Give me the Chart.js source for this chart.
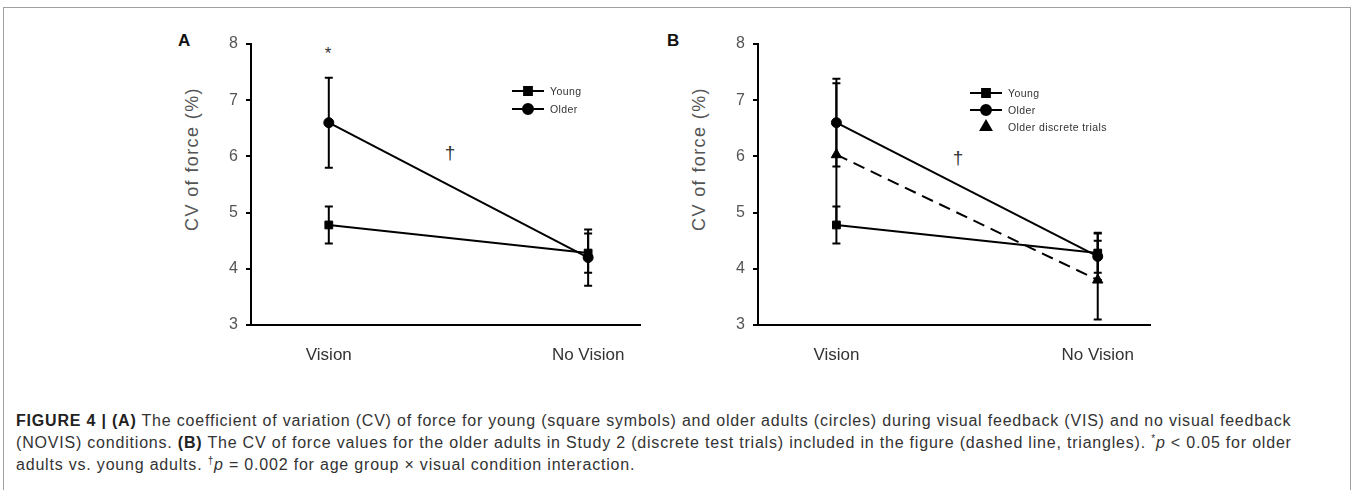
<!DOCTYPE html>
<html>
<head>
<meta charset="utf-8">
<script src="https://cdn.jsdelivr.net/npm/chart.js@4.4.1/dist/chart.umd.min.js"></script>
<style>
  body { margin: 0; background: #fff; width: 1354px; height: 490px; overflow: hidden; position: relative; font-family: Arial, "Liberation Sans", sans-serif; }
  .frame { position: absolute; left: 3px; top: 7px; width: 1346px; height: 500px; border: 1px solid #a0a0a0; border-bottom: none; }
  .wrap { position: absolute; }
  .panel { position: absolute; font-weight: bold; font-size: 17px; color: #111; }
  .ytitle { position: absolute; font-size: 18px; color: #555; letter-spacing: 1.4px; transform: translate(-50%, -50%) rotate(-90deg); white-space: nowrap; }
  .mark { position: absolute; color: #333; transform: translate(-50%, -50%); }
  .caption { position: absolute; left: 16px; top: 410px; font-size: 16px; letter-spacing: 0.8px; color: #333; white-space: nowrap; font-family: "Liberation Sans", Arial, sans-serif; }
  .caption div { height: 22px; line-height: 22px; }
  .caption b { color: #222; }
  .caption sup { font-size: 10px; line-height: 0; vertical-align: 6px; }
</style>
</head>
<body>
<div class="frame"></div>

<div class="panel" style="left:178px; top:31px;">A</div>
<div class="panel" style="left:667px; top:31px;">B</div>

<div class="ytitle" style="left:192px; top:159px;">CV of force (%)</div>
<div class="ytitle" style="left:699px; top:159px;">CV of force (%)</div>

<div class="mark" style="left:328px; top:54px; font-size:17px;">*</div>
<div class="mark" style="left:450px; top:153px; font-size:19px;">†</div>
<div class="mark" style="left:958px; top:158px; font-size:19px;">†</div>

<div class="wrap" style="left:140px; top:20px; width:520px; height:340px;"><canvas id="chartA"></canvas></div>
<div class="wrap" style="left:650px; top:20px; width:520px; height:340px;"><canvas id="chartB"></canvas></div>

<div class="caption">
<div><b>FIGURE 4 | (A)</b> The coefficient of variation (CV) of force for young (square symbols) and older adults (circles) during visual feedback (VIS) and no visual feedback</div>
<div>(NOVIS) conditions. <b>(B)</b> The CV of force values for the older adults in Study 2 (discrete test trials) included in the figure (dashed line, triangles). <sup>*</sup><i>p</i> &lt; 0.05 for older</div>
<div>adults vs. young adults. <sup>†</sup><i>p</i> = 0.002 for age group × visual condition interaction.</div>
</div>

<script>
// categorias del eje x y valores
const conditions = ['Vision', 'No Vision'];
const yTicks = [3, 4, 5, 6, 7, 8];

// Panel A
const youngA = [4.78, 4.28];
const youngErrA = [0.33, 0.35];
const olderA = [6.6, 4.2];
const olderErrA = [0.8, 0.5];

// Panel B
const youngB = [4.78, 4.28];
const youngErrB = [0.33, 0.35];
const olderB = [6.6, 4.22];
const olderErrB = [0.78, 0.42];
const discreteB = [6.03, 3.8];
const discreteErrB = [1.27, 0.7];

const toPoints = vals => vals.map((v, i) => ({ x: i + 1, y: v }));

// barras de error verticales con tope
const errorBars = {
    id: 'errorBars',
    beforeDatasetsDraw(chart) {
        const ctx = chart.ctx;
        const yScale = chart.scales.y;
        ctx.save();
        ctx.strokeStyle = '#000';
        ctx.lineWidth = 2;
        chart.data.datasets.forEach((ds, i) => {
            if (!ds.errors) return;
            chart.getDatasetMeta(i).data.forEach((pt, j) => {
                const v = ds.data[j].y;
                const e = ds.errors[j];
                const top = yScale.getPixelForValue(v + e);
                const bot = yScale.getPixelForValue(v - e);
                ctx.beginPath();
                ctx.moveTo(pt.x, top); ctx.lineTo(pt.x, bot);
                ctx.moveTo(pt.x - 4, top); ctx.lineTo(pt.x + 4, top);
                ctx.moveTo(pt.x - 4, bot); ctx.lineTo(pt.x + 4, bot);
                ctx.stroke();
            });
        });
        ctx.restore();
    }
};

// leyenda con linea y simbolo
const lineLegend = {
    id: 'lineLegend',
    afterDraw(chart, args, opts) {
        const ctx = chart.ctx;
        ctx.save();
        ctx.font = '10.5px Arial';
        ctx.textBaseline = 'middle';
        chart.data.datasets.forEach((ds, i) => {
            const y = opts.y + i * opts.gap;
            const x = opts.x;
            ctx.strokeStyle = '#000';
            ctx.fillStyle = '#000';
            if (ds.legendLine !== false) {
                ctx.lineWidth = 2;
                ctx.setLineDash([]);
                ctx.beginPath();
                ctx.moveTo(x, y); ctx.lineTo(x + 32, y);
                ctx.stroke();
            }
            Chart.helpers.drawPoint(ctx, {
                pointStyle: ds.pointStyle, radius: ds.pointRadius, rotation: 0, borderWidth: 1
            }, x + 16, y);
            ctx.fillStyle = '#333';
            ctx.letterSpacing = '0.4px';
            ctx.fillText(ds.label, x + 38, y + 1);
        });
        ctx.restore();
    }
};

function series(label, vals, errs, style, radius, dash) {
    return {
        label: label,
        data: toPoints(vals),
        errors: errs,
        borderColor: '#000',
        backgroundColor: '#000',
        borderWidth: 2,
        borderDash: dash || [],
        pointStyle: style,
        pointRadius: radius,
        pointBorderWidth: 1,
        pointBackgroundColor: '#000',
        pointBorderColor: '#000',
        legendLine: !dash
    };
}

function makeOptions(yWidth, legendPos) {
    return {
        responsive: true,
        maintainAspectRatio: false,
        animation: false,
        layout: { padding: { top: 24, right: 20, left: 0, bottom: 0 } },
        plugins: {
            legend: { display: false },
            tooltip: { enabled: false },
            lineLegend: legendPos
        },
        scales: {
            x: {
                type: 'linear',
                min: 0.7,
                max: 2.2,
                afterBuildTicks: scale => { scale.ticks = conditions.map((c, i) => ({ value: i + 1 })); },
                afterFit: scale => { scale.height = 35; },
                ticks: {
                    callback: v => conditions[v - 1],
                    font: { size: 17, family: 'Arial' },
                    color: '#333',
                    padding: 12,
                    maxRotation: 0
                },
                grid: { display: false },
                border: { display: true, color: '#000', width: 2 }
            },
            y: {
                min: 3,
                max: 8,
                afterBuildTicks: scale => { scale.ticks = yTicks.map(v => ({ value: v })); },
                afterFit: scale => { scale.width = yWidth; },
                ticks: {
                    font: { size: 16, family: 'Arial' },
                    color: '#555',
                    padding: 8
                },
                grid: { drawOnChartArea: false, drawTicks: true, tickLength: 5, color: '#000', lineWidth: 2 },
                border: { display: true, color: '#000', width: 2 }
            }
        }
    };
}

new Chart(document.getElementById('chartA'), {
    type: 'line',
    data: {
        datasets: [
            series('Young', youngA, youngErrA, 'rect', 5.5),
            series('Older', olderA, olderErrA, 'circle', 5)
        ]
    },
    options: makeOptions(111, { x: 372, y: 71, gap: 18 }),
    plugins: [errorBars, lineLegend]
});

new Chart(document.getElementById('chartB'), {
    type: 'line',
    data: {
        datasets: [
            series('Young', youngB, youngErrB, 'rect', 5.5),
            series('Older', olderB, olderErrB, 'circle', 5),
            series('Older discrete trials', discreteB, discreteErrB, 'triangle', 6, [12, 7])
        ]
    },
    options: makeOptions(108, { x: 320, y: 73, gap: 17 }),
    plugins: [errorBars, lineLegend]
});
</script>
</body>
</html>
